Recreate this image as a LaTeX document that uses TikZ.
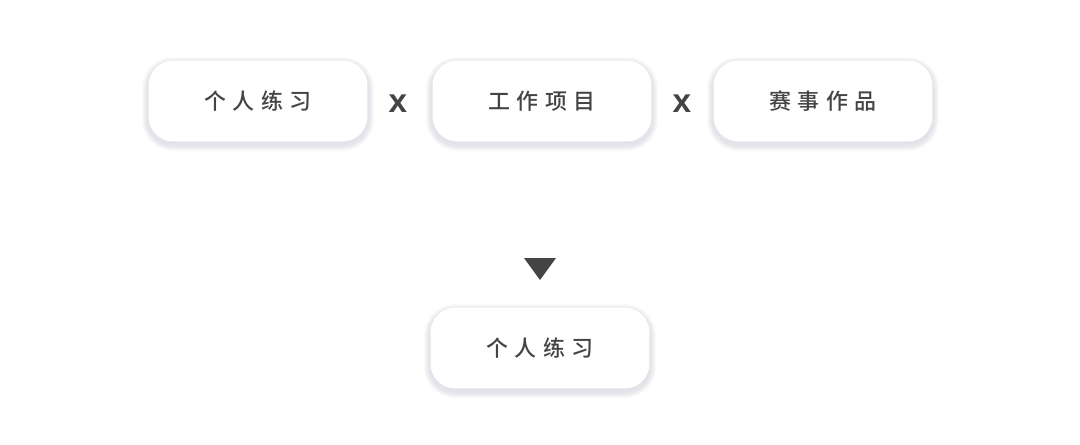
\documentclass[tikz,border=0pt]{standalone}
\usepackage{fontspec}
\newfontfamily\cjk[LetterSpace=28, UprightFont={* Medium}]{Noto Sans CJK SC}
\newfontfamily\latin{Liberation Sans}
\usepackage{xcolor}
\usetikzlibrary{backgrounds}
\definecolor{txt}{HTML}{444444}
\definecolor{shade}{HTML}{7C7C9C}

\tikzset{
    card/.style={fill=white, rounded corners=0.5cm, minimum width=4.38cm,
        minimum height=1.62cm, inner sep=0pt, text=txt,
        font=\cjk\fontsize{12.5}{14}\selectfont},
    halo/.style={fill=shade, fill opacity=0.035},
    times/.style={text=txt, font=\latin\bfseries\fontsize{19}{20}\selectfont, inner sep=0pt}
}

\begin{document}
\begin{tikzpicture}[x=0.02cm, y=-0.02cm]
    \useasboundingbox (0,0) rectangle (1080,444);

    % Fila de arriba
    \node[card] (practica) at (258,101) {个人练习};
    \node[card] (trabajo)  at (542,101) {工作项目};
    \node[card] (concurso) at (823,101) {赛事作品};

    % Signos entre cajas
    \node[times] (por1) at (398,104) {x};
    \node[times] (por2) at (682,104) {x};

    % Triangulo
    \fill[txt] (524,258) -- (556,258) -- (540,280) -- cycle;

    % Resultado
    \node[card] (resultado) at (540,348) {个人练习};

    % Sombras suaves
    \begin{scope}[on background layer]
        \fill[white] (0,0) rectangle (1080,444);
        \foreach \n in {practica,trabajo,concurso,resultado}
            \foreach \i in {1,...,6}
                \fill[halo, rounded corners=0.5cm+\i*0.2mm]
                    ([xshift=-\i*0.2mm, yshift=-\i*0.2mm-0.6mm]\n.south west)
                    rectangle ([xshift=\i*0.2mm, yshift=\i*0.2mm-0.6mm]\n.north east);
    \end{scope}
\end{tikzpicture}
\end{document}
